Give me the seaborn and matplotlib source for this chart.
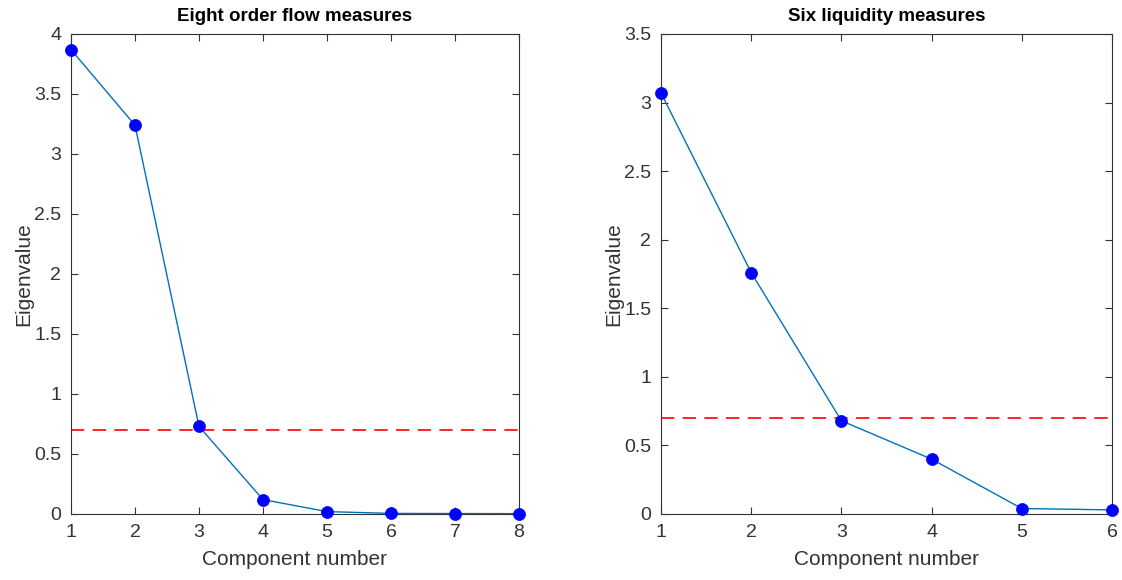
import matplotlib
matplotlib.use("Agg")
import matplotlib.pyplot as plt
import seaborn as sns
import pandas as pd

sns.set_theme(style="white")
plt.rcParams['font.family'] = ['Liberation Sans', 'DejaVu Sans']

# Data
order_components = [1, 2, 3, 4, 5, 6, 7, 8]
order_eigen = [3.87, 3.24, 0.73, 0.12, 0.02, 0.005, 0.004, 0.003]
liq_components = [1, 2, 3, 4, 5, 6]
liq_eigen = [3.07, 1.76, 0.68, 0.40, 0.04, 0.03]
threshold = 0.7
titles = ["Eight order flow measures", "Six liquidity measures"]
ylims = [4.0, 3.5]

line_color = "#0072BD"
tick_color = "#333333"

fig = plt.figure(figsize=(11.22, 5.8), dpi=100)
ax1 = fig.add_axes([71/1122, 66/580, 448/1122, 480/580])
ax2 = fig.add_axes([661/1122, 66/580, 451/1122, 480/580])

for ax, comps, vals, title, ymax in [
    (ax1, order_components, order_eigen, titles[0], ylims[0]),
    (ax2, liq_components, liq_eigen, titles[1], ylims[1]),
]:
    df = pd.DataFrame({"Component": comps, "Eigenvalue": vals})
    sns.lineplot(data=df, x="Component", y="Eigenvalue", ax=ax,
                 color=line_color, linewidth=1.0, zorder=2)
    sns.scatterplot(data=df, x="Component", y="Eigenvalue", ax=ax,
                    color="#0000FF", s=75, edgecolor="#0000FF", linewidth=0.5,
                    zorder=3, clip_on=False)
    ax.axhline(threshold, color="#FF0000", linestyle=(0, (8, 5)), linewidth=1.2, zorder=1)
    ax.set_xlim(comps[0], comps[-1])
    ax.set_ylim(0, ymax)
    ax.set_xticks(comps)
    n = int(ymax / 0.5) + 1
    ax.set_yticks([v * 0.5 for v in range(n)])
    ax.set_yticklabels([f"{v*0.5:g}" for v in range(n)])
    ax.set_title(title, fontsize=13.5, fontweight="bold", color="black", pad=9.5)
    ax.set_xlabel("Component number", fontsize=15, color=tick_color, labelpad=7)
    ax.set_ylabel("Eigenvalue", fontsize=15, color=tick_color, labelpad=1)
    ax.tick_params(direction="in", top=True, right=True, bottom=True, left=True,
                   length=5, width=0.8, labelsize=14, colors=tick_color, pad=7)
    for s in ax.spines.values():
        s.set_visible(True)
        s.set_color(tick_color)
        s.set_linewidth(0.8)

fig.savefig("out.png", dpi=100)
